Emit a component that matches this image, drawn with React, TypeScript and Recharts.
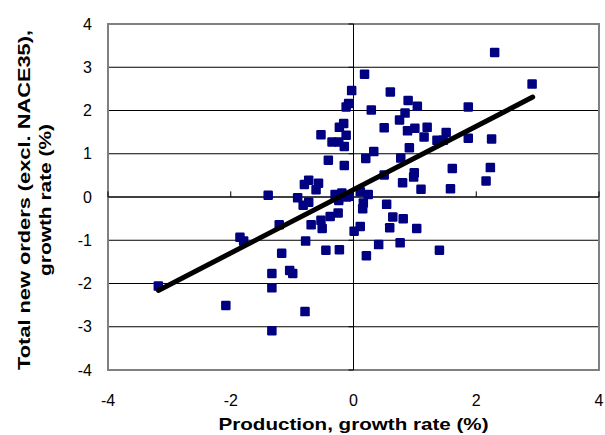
import React from 'react';
import {
  ScatterChart,
  Scatter,
  XAxis,
  YAxis,
  CartesianGrid,
  ReferenceLine,
  ReferenceArea,
} from 'recharts';

// Production growth rate (%) — x values
const productionGrowth = [
  2.30, 2.91, 1.87, 0.60, 0.18, -0.03, 0.89, 1.04, -0.08, -0.12,
  0.29, 0.84, 0.75, 0.50, -0.16, -0.23, 0.88, 1.00, 1.20, 1.51,
  1.15, 1.36, 1.46, 1.87, 2.25, 0.91, 0.33, 0.20, 0.77, -0.15,
  1.61, 2.23, 0.50, 0.99, 0.98, 0.80, 1.10, 1.58, 2.16, 0.24,
  0.11, -0.12, -0.53, -0.35, -0.24, -0.15, -0.41, -0.73, -0.80, -0.57,
  -0.61, -1.39, -0.91, -0.30, -0.19, -0.82, -0.73, -0.07, 0.16, 0.15,
  0.54, 0.64, 0.81, 1.03, 0.59, 0.11, 0.01, 0.41, 0.76, 0.21,
  -0.25, -0.38, -0.53, -0.51, -0.69, -1.21, -0.78, -0.45, -0.23, -1.17,
  -1.04, -0.99, -1.33, -1.33, -0.79, -1.33, -3.18, -1.85, -1.79, -2.08,
  1.40, -0.24, -0.11,
];

// Total new orders growth rate (%) — y values
const ordersGrowth = [
  3.34, 2.61, 2.08, 2.43, 2.84, 2.46, 2.23, 2.10, 2.16, 2.08,
  2.01, 1.94, 1.78, 1.60, 1.70, 1.61, 1.53, 1.59, 1.61, 1.49,
  1.39, 1.31, 1.31, 1.36, 1.34, 1.14, 1.05, 0.89, 0.90, 0.73,
  0.66, 0.68, 0.51, 0.56, 0.46, 0.33, 0.18, 0.19, 0.37, 0.06,
  0.12, 1.43, 1.44, 1.27, 1.27, 1.17, 0.85, 0.39, 0.29, 0.32,
  0.17, 0.04, -0.02, 0.06, 0.09, -0.19, -0.12, 0.02, -0.14, -0.27,
  -0.17, -0.46, -0.50, -0.73, -0.71, -0.68, -0.79, -1.10, -1.06, -1.36,
  -0.37, -0.45, -0.54, -0.73, -0.64, -0.64, -1.02, -1.23, -1.22, -1.30,
  -1.70, -1.77, -1.77, -2.10, -2.65, -3.09, -2.06, -0.93, -1.02, -2.51,
  -1.23, -0.08, 0.00,
];

// Fitted line end points
const trendX = [-3.18, 2.92];
const trendY = [-2.16, 2.31];

const xTicks = [-4, -2, 0, 2, 4];
const yTicks = [-4, -3, -2, -1, 0, 1, 2, 3, 4];

const xTitle = 'Production, growth rate (%)';
const yTitleLines = ['Total new orders (excl. NACE35),', 'growth rate (%)'];

const points = productionGrowth.map((x, i) => ({ x, y: ordersGrowth[i] }));
const trend = trendX.map((x, i) => ({ x, y: trendY[i] }));

const FONT = '"Liberation Sans", Arial, Helvetica, sans-serif';
const MARKER = '#000080';

const Square = (props: any) => {
  const { cx, cy } = props;
  if (cx == null || cy == null) return null;
  return <rect x={cx - 4.75} y={cy - 4.75} width={9.5} height={9.5} rx={1.2} fill={MARKER} />;
};

const NoShape = () => null;

const XTitle = (props: any) => {
  const vb = props.viewBox || { x: 108, width: 491 };
  const cx = vb.x + vb.width / 2;
  return (
    <text
      x={cx}
      y={430}
      textAnchor="middle"
      fontFamily={FONT}
      fontSize={17}
      fontWeight="bold"
      fill="#000"
      textLength={270}
      lengthAdjust="spacingAndGlyphs"
    >
      {xTitle}
    </text>
  );
};

const YTitle = (props: any) => {
  const vb = props.viewBox || { y: 24, height: 346 };
  const cy = vb.y + vb.height / 2 + 3;
  const xs = [24, 45];
  const lens = [340, 152];
  return (
    <g>
      {yTitleLines.map((line, i) => (
        <text
          key={i}
          x={xs[i]}
          y={cy}
          transform={`rotate(-90 ${xs[i]} ${cy})`}
          textAnchor="middle"
          dominantBaseline="central"
          fontFamily={FONT}
          fontSize={17}
          fontWeight="bold"
          fill="#000"
          textLength={lens[i]}
          lengthAdjust="spacingAndGlyphs"
        >
          {line}
        </text>
      ))}
    </g>
  );
};

export default function App() {
  const tickStyle = { fontSize: 16, fill: '#000', fontFamily: FONT };
  return (
    <div style={{ position: 'absolute', left: 0, top: 0, background: '#fff' }}>
      <ScatterChart
        width={605}
        height={435}
        margin={{ top: 24, right: 6, left: 68, bottom: 0 }}
      >
        <CartesianGrid horizontal vertical={false} stroke="#000" strokeWidth={1} />
        <XAxis
          type="number"
          dataKey="x"
          domain={[-4, 4]}
          ticks={xTicks}
          interval={0}
          axisLine={false}
          tickLine={false}
          tickSize={0}
          tickMargin={25}
          height={65}
          tick={tickStyle}
          allowDataOverflow
          label={{ content: (p: any) => <XTitle {...p} /> }}
        />
        <YAxis
          type="number"
          dataKey="y"
          domain={[-4, 4]}
          ticks={yTicks}
          interval={0}
          axisLine={false}
          tickLine={false}
          tickSize={0}
          tickMargin={16}
          width={40}
          tick={tickStyle}
          allowDataOverflow
          label={{ content: (p: any) => <YTitle {...p} /> }}
        />
        <ReferenceArea
          x1={-4}
          x2={4}
          y1={-4}
          y2={4}
          fill="none"
          fillOpacity={0}
          stroke="#808080"
          strokeWidth={2}
          ifOverflow="visible"
        />
        <ReferenceLine x={0} stroke="#000" strokeWidth={1} />
        <ReferenceLine y={0} stroke="#000" strokeWidth={1} />
        {yTicks.map((t) => (
          <ReferenceLine
            key={'yt' + t}
            segment={[{ x: -0.08, y: t }, { x: 0, y: t }]}
            stroke="#000"
            strokeWidth={1}
            ifOverflow="visible"
          />
        ))}
        {xTicks.map((t) => (
          <ReferenceLine
            key={'xt' + t}
            segment={[{ x: t, y: 0 }, { x: t, y: 0.13 }]}
            stroke="#000"
            strokeWidth={1}
            ifOverflow="visible"
          />
        ))}
        <Scatter data={points} shape={<Square />} isAnimationActive={false} />
        <Scatter
          data={trend}
          shape={<NoShape />}
          line={{ stroke: '#000', strokeWidth: 5, strokeLinecap: 'round' } as any}
          isAnimationActive={false}
        />
      </ScatterChart>
    </div>
  );
}
